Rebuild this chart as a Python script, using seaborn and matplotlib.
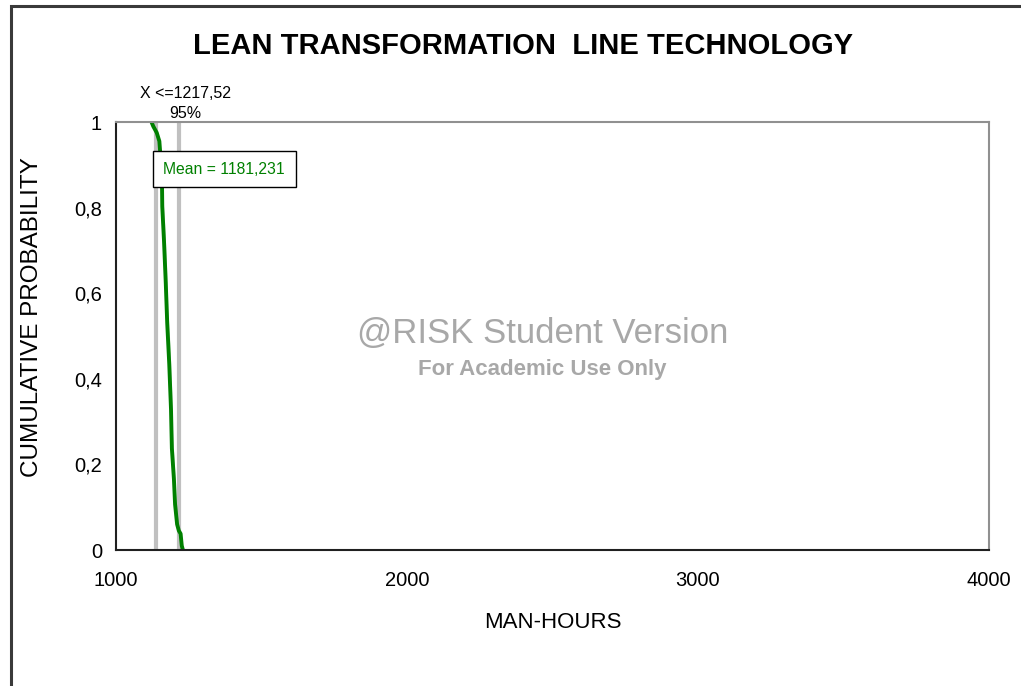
import matplotlib
matplotlib.use("Agg")
import matplotlib.pyplot as plt
import seaborn as sns
import pandas as pd
from matplotlib.patches import Rectangle

sns.set_theme(style="white")
plt.rcParams["font.family"] = ["Liberation Sans", "DejaVu Sans"]
plt.rcParams["text.color"] = "black"
plt.rcParams["axes.labelcolor"] = "black"
plt.rcParams["xtick.color"] = "black"
plt.rcParams["ytick.color"] = "black"

# Descending cumulative curve of simulated man-hours
man_hours = [1122, 1128, 1140, 1149, 1155, 1158, 1159, 1159, 1165, 1165, 1171, 1171,
             1176, 1176, 1183, 1183, 1189, 1189, 1192, 1192, 1199, 1199, 1203, 1203,
             1210, 1210, 1216, 1222, 1226, 1230]
cum_prob = [1.00, 0.99, 0.975, 0.955, 0.90, 0.86, 0.83, 0.775, 0.758, 0.685, 0.671, 0.578,
            0.563, 0.497, 0.481, 0.388, 0.371, 0.287, 0.272, 0.203, 0.190, 0.142, 0.131, 0.082,
            0.070, 0.050, 0.045, 0.038, 0.010, 0.0]

# Percentile markers
marker_x = [1137.5, 1217.52]
mean_value = "1181,231"
pct_label = "X <=1217,52"
pct_value = "95%"

x_ticks = [1000, 2000, 3000, 4000]
y_ticks = [0, 0.2, 0.4, 0.6, 0.8, 1.0]
y_tick_labels = ["0", "0,2", "0,4", "0,6", "0,8", "1"]

W, H = 1021, 686
fig = plt.figure(figsize=(W / 100, H / 100), dpi=100)
fig.patch.set_facecolor("white")

# Outer chart frame
fig.add_artist(Rectangle((11 / W, -0.1), 1.2, 1 - 6 / H + 0.1, transform=fig.transFigure,
                         fill=False, edgecolor="#3a3a3a", linewidth=2.2))

ax = fig.add_axes([116 / W, 1 - 550 / H, (989 - 116) / W, (550 - 122) / H])

for xv in marker_x:
    ax.axvline(xv, color="#c0c0c0", linewidth=3, zorder=1)

df = pd.DataFrame({"x": man_hours, "p": cum_prob})
sns.lineplot(data=df, x="x", y="p", sort=False, color="#008000", linewidth=2.8,
             ax=ax, zorder=2)

ax.set_xlim(1000, 4000)
ax.set_ylim(0, 1)
ax.set_xticks(x_ticks)
ax.set_xticklabels([str(t) for t in x_ticks], fontsize=14.5)
ax.set_yticks(y_ticks)
ax.set_yticklabels(y_tick_labels, fontsize=14.5)
ax.tick_params(axis="x", direction="inout", length=10, width=1.5, color="#707070", pad=10)
ax.tick_params(axis="y", direction="out", length=6, width=1, color="black", pad=4)

for side in ["left", "bottom"]:
    ax.spines[side].set_color("#202020")
    ax.spines[side].set_linewidth(1.5)
for side in ["top", "right"]:
    ax.spines[side].set_color("#909090")
    ax.spines[side].set_linewidth(1.5)

ax.set_xlabel("MAN-HOURS", fontsize=16, labelpad=16)
ax.set_ylabel("CUMULATIVE PROBABILITY", fontsize=17.5)
ax.yaxis.set_label_coords((43 - 116) / (989 - 116), (550 - 317) / (550 - 122))

fig.text(523 / W, 1 - 46 / H, "LEAN TRANSFORMATION  LINE TECHNOLOGY",
         ha="center", va="center", fontsize=21, fontweight="bold")

# Percentile annotation above the plot
fig.text(185 / W, 1 - 93 / H, pct_label, ha="center", va="center", fontsize=11.5)
fig.text(185 / W, 1 - 114 / H, pct_value, ha="center", va="center", fontsize=11.5)

# Mean label box
ax.text(1163, 0.89, "Mean = " + mean_value, color="#008000", fontsize=11.3,
        ha="left", va="center", zorder=5,
        bbox=dict(boxstyle="square,pad=0.68", facecolor="white", edgecolor="black",
                  linewidth=1))

# Watermark
fig.text(543 / W, 1 - 334 / H, "@RISK Student Version", ha="center", va="center",
         fontsize=25, color="#a8a8a8")
fig.text(542 / W, 1 - 370 / H, "For Academic Use Only", ha="center", va="center",
         fontsize=16, color="#a8a8a8", fontweight="bold")

fig.savefig("out.png", dpi=100, facecolor="white")
